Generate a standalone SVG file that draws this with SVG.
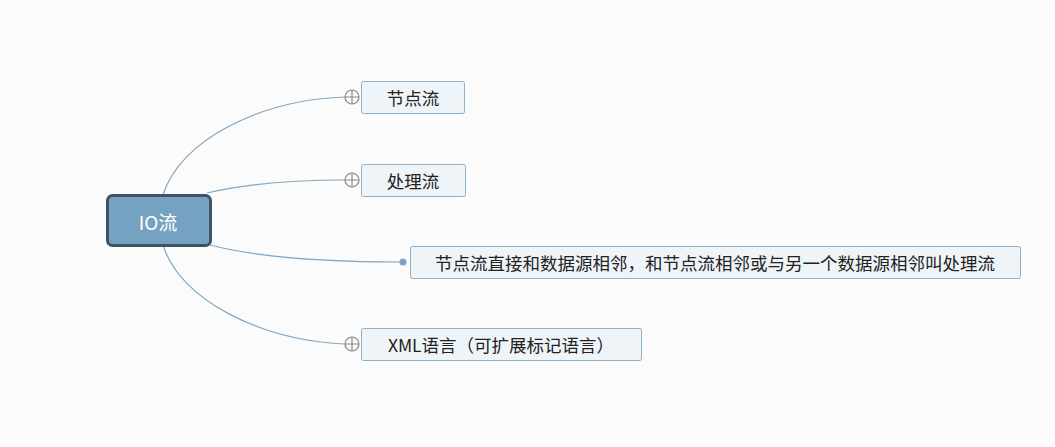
<svg xmlns="http://www.w3.org/2000/svg" width="1055" height="447" viewBox="0 0 1055 447">
<style>
.bg{fill:#fbfbfb}
.node rect{fill:#eff4f8;stroke:#8fb0c9;stroke-width:1}
.node text{font-family:"Microsoft YaHei","Noto Sans CJK SC",sans-serif;font-size:17.5px;fill:#222;text-anchor:middle;dominant-baseline:central}
.conn path{fill:none;stroke:#84a7c0;stroke-width:1.2}
.plus circle{fill:#fbfbfb;stroke:#888;stroke-width:1.2}
.plus path{stroke:#888;stroke-width:1.2}
</style>
<rect class="bg" x="0" y="0" width="1055" height="447"/>
<g id="connectors" class="conn">
<path d="M163,195 C180,140 260,100 345,97"/>
<path d="M207,193 C240,185 290,180 345,180"/>
<path d="M210,245 C260,258 330,262 403,262"/>
<path d="M163,245 C180,300 260,340 345,344"/>
</g>
<g id="root">
<rect x="107.5" y="195.5" width="103" height="50" rx="5" fill="#76a2c2" stroke="#3e5466" stroke-width="3"/>
<text x="158" y="221" font-family="'Microsoft YaHei','Noto Sans CJK SC',sans-serif" font-size="19" fill="#fff" text-anchor="middle" dominant-baseline="central">IO流</text>
</g>
<g id="n1" class="node">
<rect x="361.5" y="81.5" width="103" height="32" rx="2"/>
<text x="413" y="97">节点流</text>
<g class="plus"><circle cx="352" cy="97" r="7"/><path d="M345,97H359M352,90V104"/></g>
</g>
<g id="n2" class="node">
<rect x="361.5" y="164.5" width="104" height="32" rx="2"/>
<text x="413" y="180">处理流</text>
<g class="plus"><circle cx="352" cy="180" r="7"/><path d="M345,180H359M352,173V187"/></g>
</g>
<g id="n3" class="node">
<rect x="410.5" y="246.5" width="610" height="32" rx="2"/>
<text x="715" y="262">节点流直接和数据源相邻，和节点流相邻或与另一个数据源相邻叫处理流</text>
<circle cx="403" cy="262" r="3.5" fill="#7fa3bf"/>
</g>
<g id="n4" class="node">
<rect x="361.5" y="328.5" width="280" height="32" rx="2"/>
<text x="501" y="344">XML语言（可扩展标记语言）</text>
<g class="plus"><circle cx="352" cy="344" r="7"/><path d="M345,344H359M352,337V351"/></g>
</g>
</svg>
